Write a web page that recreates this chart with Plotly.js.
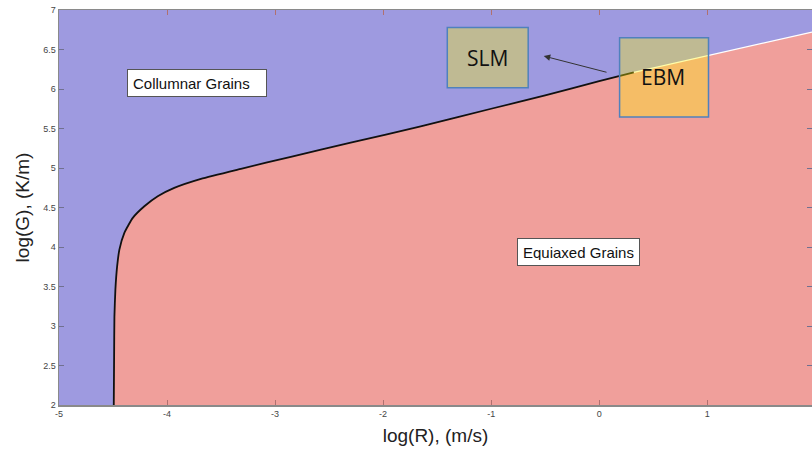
<!DOCTYPE html>
<html>
<head>
<meta charset="utf-8">
<script src="https://cdn.plot.ly/plotly-3.0.1.min.js"></script>
<style>
html,body{margin:0;padding:0;overflow:hidden;background:#fff;}
#chart{width:812px;height:451px;}
</style>
</head>
<body>
<div id="chart"></div>
<script>
// Boundary between columnar and equiaxed grains (log R, log G)
var boundaryX = [-4.493, -4.49, -4.487, -4.478, -4.462, -4.441, -4.395, -4.317, -4.21, -4.086, -3.933, -3.686, -3.316, -2.854, -2.3, -1.652, -1.0, -0.5, 0.0, 0.32];
var boundaryY = [2.0, 2.6, 3.122, 3.46, 3.755, 3.967, 4.179, 4.369, 4.516, 4.643, 4.749, 4.863, 4.99, 5.142, 5.32, 5.526, 5.75, 5.92, 6.10, 6.21];
// Continuation of the boundary beyond the drawn black curve
var extX = [0.32, 1.0, 1.97];
var extY = [6.21, 6.42, 6.72];

var xRange = [-5, 1.97];
var yRange = [2, 7];
var xTicks = [-5, -4, -3, -2, -1, 0, 1];
var yTicks = [2, 2.5, 3, 3.5, 4, 4.5, 5, 5.5, 6, 6.5, 7];
var regionLabels = ['Collumnar Grains', 'Equiaxed Grains'];
var processLabels = ['SLM', 'EBM'];

// red (equiaxed) region polygon built from the boundary
var fillX = boundaryX.concat(extX.slice(1)).concat([xRange[1]]);
var fillY = boundaryY.concat(extY.slice(1)).concat([yRange[0]]);

var traces = [
  {x: fillX, y: fillY, type: 'scatter', mode: 'lines', fill: 'toself',
   fillcolor: '#f09f9b', line: {width: 0}, hoverinfo: 'skip', showlegend: false},
  {x: extX, y: extY, type: 'scatter', mode: 'lines',
   line: {color: '#ffffff', width: 1.2}, hoverinfo: 'skip', showlegend: false},
  {x: boundaryX, y: boundaryY, type: 'scatter', mode: 'lines',
   line: {color: '#111111', width: 1.8, shape: 'spline', smoothing: 0.5}, hoverinfo: 'skip', showlegend: false}
];

var tickFont = {family: 'Liberation Sans Narrow, Liberation Sans, Arial', size: 9, color: '#444'};
var titleFont = {family: 'Liberation Sans Narrow, Liberation Sans, Arial', size: 19, color: '#222'};

var layout = {
  width: 812, height: 451,
  margin: {l: 59, r: 0, t: 10, b: 46},
  paper_bgcolor: '#ffffff',
  plot_bgcolor: '#9e9ae0',
  showlegend: false,
  xaxis: {
    range: xRange, tickvals: xTicks, ticktext: xTicks.map(String),
    ticks: 'inside', ticklen: 5, tickcolor: '#b07070', tickwidth: 1,
    showgrid: false, zeroline: false, showline: true, linecolor: '#8a8a8a', linewidth: 1.5, mirror: 'ticks',
    tickfont: tickFont,
    title: {text: 'log(R), (m/s)', font: titleFont, standoff: 10}
  },
  yaxis: {
    range: yRange, tickvals: yTicks, ticktext: yTicks.map(String),
    ticks: 'inside', ticklen: 5, tickcolor: '#707090', tickwidth: 1,
    showgrid: false, zeroline: false, showline: true, linecolor: '#8a8a8a', linewidth: 1.5, mirror: 'ticks',
    tickfont: tickFont,
    title: {text: 'log(G), (K/m)', font: titleFont, standoff: 8}
  },
  shapes: [
    {type: 'rect', xref: 'x', yref: 'y', x0: -1.406, x1: -0.657, y0: 6.017, y1: 6.777,
     fillcolor: 'rgba(255,250,0,0.34)', line: {color: '#4f81bd', width: 1.5}, layer: 'above'},
    {type: 'rect', xref: 'x', yref: 'y', x0: 0.189, x1: 1.012, y0: 5.644, y1: 6.65,
     fillcolor: 'rgba(255,250,0,0.34)', line: {color: '#4f81bd', width: 1.5}, layer: 'above'}
  ],
  annotations: [
    {x: -3.72, y: 6.08, xref: 'x', yref: 'y', text: regionLabels[0], showarrow: false,
     width: 128, height: 16, align: 'left',
     font: {family: 'Liberation Sans, Arial', size: 15, color: '#111'},
     bgcolor: '#ffffff', bordercolor: '#555', borderwidth: 1, borderpad: 5},
    {x: -0.19, y: 3.94, xref: 'x', yref: 'y', text: regionLabels[1], showarrow: false,
     width: 111, height: 16, align: 'left',
     font: {family: 'Liberation Sans, Arial', size: 15, color: '#111'},
     bgcolor: '#ffffff', bordercolor: '#555', borderwidth: 1, borderpad: 5},
    {x: -1.03, y: 6.39, xref: 'x', yref: 'y', text: processLabels[0], showarrow: false,
     font: {family: 'Open Sans, Noto Sans, Arial', size: 21, color: '#111'}},
    {x: 0.59, y: 6.15, xref: 'x', yref: 'y', text: processLabels[1], showarrow: false,
     font: {family: 'Open Sans, Noto Sans, Arial', size: 21, color: '#111'}},
    {x: -0.513, y: 6.417, xref: 'x', yref: 'y', ax: 0.082, ay: 6.207, axref: 'x', ayref: 'y',
     text: '', showarrow: true, arrowhead: 2, arrowsize: 1.3, arrowwidth: 1, arrowcolor: '#333'}
  ]
};

Plotly.newPlot('chart', traces, layout, {displayModeBar: false, staticPlot: true});
</script>
</body>
</html>
